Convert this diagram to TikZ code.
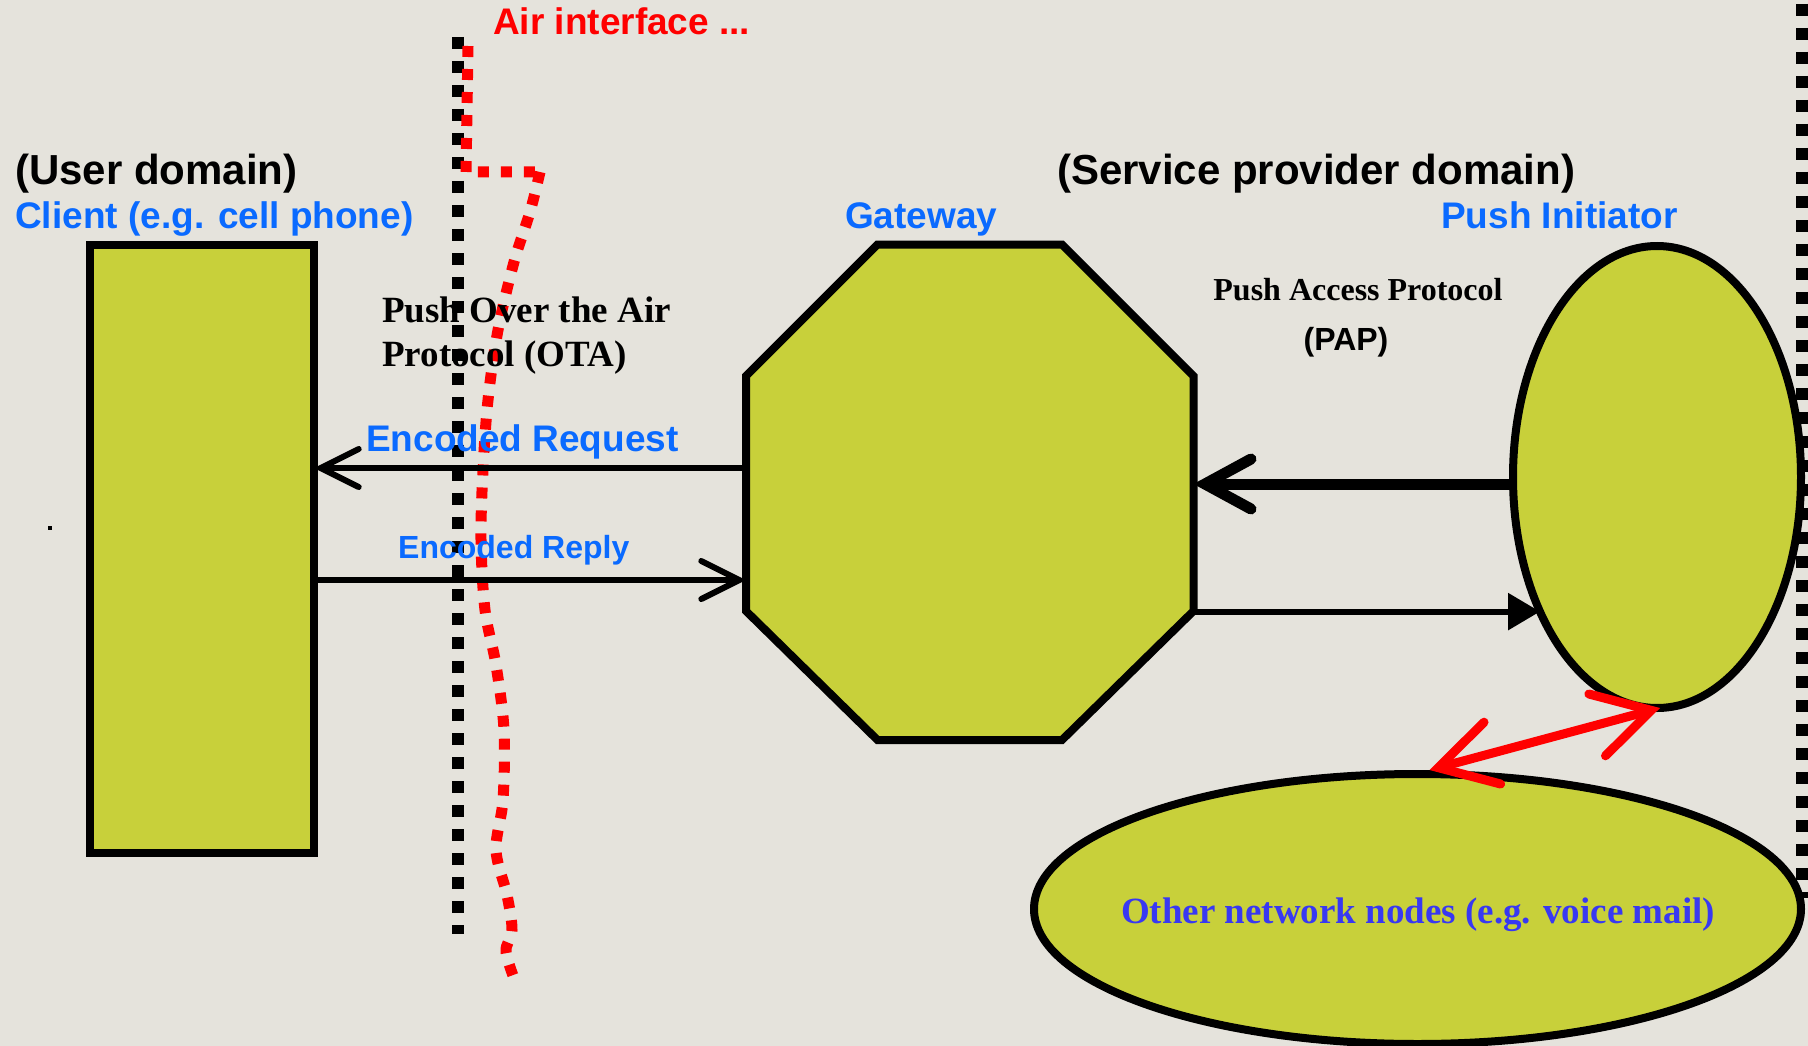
\documentclass[tikz,border=0pt]{standalone}
\usepackage{fontspec}
\setmainfont{Liberation Serif}
\newfontfamily\sansf{Liberation Sans}
\usetikzlibrary{shapes.geometric,arrows.meta,calc}
\definecolor{bgc}{HTML}{E5E3DC}
\definecolor{fillc}{HTML}{C8D03A}
\definecolor{bluet}{HTML}{0A6AFF}
\definecolor{purt}{HTML}{3838F2}
\definecolor{redc}{HTML}{FF0000}
\begin{document}
\begin{tikzpicture}[x=1pt,y=-1pt,
  shapebox/.style={draw=black, line width=8pt, fill=fillc, inner sep=0pt},
  lbl/.style={inner sep=0pt, anchor=base west},
  bigsans/.style={font=\sansf\bfseries\fontsize{42pt}{48pt}\selectfont},
  midsans/.style={font=\sansf\bfseries\fontsize{37pt}{42pt}\selectfont},
  smallsans/.style={font=\sansf\bfseries\fontsize{32pt}{38pt}\selectfont},
  midserif/.style={font=\bfseries\fontsize{37pt}{44pt}\selectfont},
  smallserif/.style={font=\bfseries\fontsize{32pt}{38pt}\selectfont},
  thinarrow/.style={draw=black, line width=6pt, line cap=round, -{Straight Barb[length=38pt, width=38pt, line cap=round]}},
  thickarrow/.style={draw=black, line width=11pt, -{Straight Barb[length=46pt, width=50pt, line cap=round]}},
  filledarrow/.style={draw=black, line width=6pt, -{Triangle[length=32pt, width=36pt]}},
  redarrow/.style={draw=redc, line width=9pt, line cap=round, {Straight Barb[length=56pt, width=64pt, line cap=round]}-{Straight Barb[length=56pt, width=64pt, line cap=round]}},
  blackdots/.style={draw=black, line width=12pt, dash pattern=on 12pt off 12pt},
  reddots/.style={draw=redc, line width=11pt, dash pattern=on 11pt off 12pt}
]
% background
\fill[bgc] (0,0) rectangle (1808,1046);
\useasboundingbox (0,0) rectangle (1808,1046);

% dotted boundary lines
\coordinate (ltop) at (458,37);
\coordinate (lbot) at (458,934);
\draw[blackdots] (ltop) -- (lbot);
\coordinate (rtop) at (1802,4);
\coordinate (rbot) at (1802,898);
\draw[blackdots] (rtop) -- (rbot);

% air interface red dotted curve
\draw[reddots, line join=miter] (468,46) -- (466,172) -- (540,172)
  plot[smooth, tension=0.55] coordinates {(540,172) (530,212) (514,262) (498,330) (488,400) (483,470) (481,540) (485,610) (496,665) (504,730) (503,800) (496,850) (507,895) (512,930) (506,952) (517,986)};

% shapes
\node[shapebox, rectangle, outer sep=0pt, minimum width=224pt, minimum height=608pt] (client) at (202,549) {};
% gateway octagon (outline drawn as a path, node gives anchors)
\draw[shapebox, line join=miter] (877.5,244.5) -- (1062,244.5) -- (1193.5,376) -- (1193.5,611)
  -- (1062,740) -- (877.5,740) -- (746,611) -- (746,376) -- cycle;
\node[rectangle, inner sep=0pt, outer sep=0pt, minimum width=447.5pt, minimum height=495.5pt] (gw) at (969.75,492.25) {};
\node[shapebox, ellipse, outer sep=0pt, minimum width=288pt, minimum height=462pt] (pi) at (1657,477) {};
\node[shapebox, ellipse, minimum width=767pt, minimum height=270pt] (other) at (1417.5,909) {};
\node[midserif, text=purt, inner sep=0pt, anchor=base] (othertext) at (1418,923) {Other network nodes (e.g. voice mail)};

% connectors
\coordinate (reqy) at (0,468);
\coordinate (repy) at (0,580);
\coordinate (papy) at (0,484);
\draw[thinarrow] (gw.west |- reqy) -- (client.east |- reqy);
\draw[thinarrow] (client.east |- repy) -- (gw.west |- repy);
\draw[thickarrow] ([xshift=-4pt]pi.west |- papy) -- (gw.east |- papy);
\draw[filledarrow] (gw.east |- pi.229) -- (pi.229);
\draw[redarrow] ([xshift=12pt]other.north) -- ([xshift=3pt]pi.south);

% labels
\node[lbl, bigsans] (userdom) at (15,185) {(User domain)};
\node[lbl, midsans, text=bluet] (clientlbl) at (15,229) {Client (e.g. cell phone)};
\node[lbl, midsans, text=redc] (airlbl) at (493,35) {Air interface ...};
\node[lbl, bigsans] (spdom) at (1057,185) {(Service provider domain)};
\node[lbl, midsans, text=bluet] (gwlbl) at (845,229) {Gateway};
\node[lbl, midsans, text=bluet] (pilbl) at (1441,229) {Push Initiator};
\node[smallserif, inner sep=0pt, anchor=base] (paplbl) at (1358,300) {Push Access Protocol};
\node[smallsans, inner sep=0pt, anchor=base] (papabbr) at (1346,350) {(PAP)};
\node[lbl, midserif] (otalbla) at (382,322) {Push Over the Air};
\node[lbl, midserif] (otalblb) at (382,366) {Protocol (OTA)};
\node[lbl, midsans, text=bluet] (reqlbl) at (366,451) {Encoded Request};
\node[lbl, smallsans, text=bluet] (replbl) at (398,558) {Encoded Reply};

% stray dot
\fill[black] (48,526) rectangle (52,530);
\end{tikzpicture}
\end{document}
